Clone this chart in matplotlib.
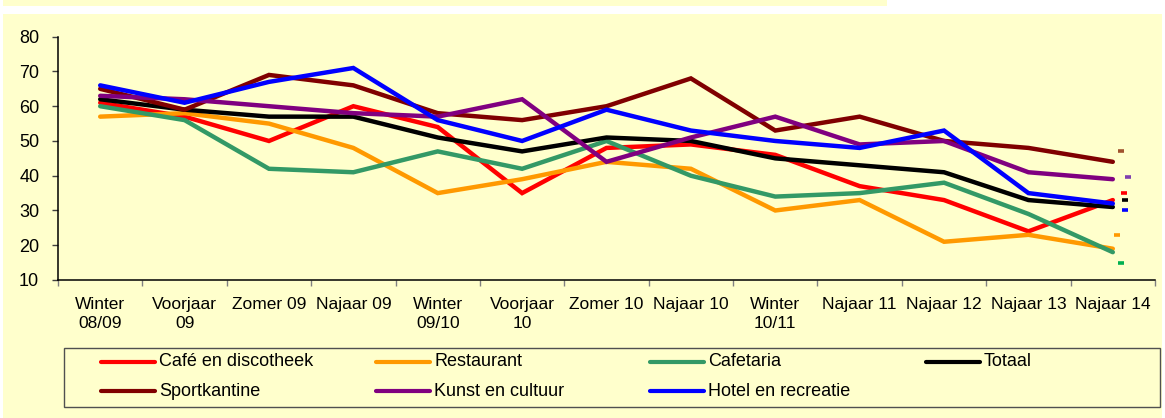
import matplotlib
matplotlib.use("Agg")
import matplotlib.pyplot as plt
from matplotlib.patches import Rectangle
from matplotlib.lines import Line2D
import numpy as np

plt.rcParams['font.family'] = ['Liberation Sans', 'DejaVu Sans']

# ---- data ----
categories = ["Winter\n08/09", "Voorjaar\n09", "Zomer 09", "Najaar 09", "Winter\n09/10",
              "Voorjaar\n10", "Zomer 10", "Najaar 10", "Winter\n10/11", "Najaar 11",
              "Najaar 12", "Najaar 13", "Najaar 14"]
cafe = [61, 57, 50, 60, 54, 35, 48, 49, 46, 37, 33, 24, 33]
restaurant = [57, 58, 55, 48, 35, 39, 44, 42, 30, 33, 21, 23, 19]
cafetaria = [60, 56, 42, 41, 47, 42, 50, 40, 34, 35, 38, 29, 18]
totaal = [62, 59, 57, 57, 51, 47, 51, 50, 45, 43, 41, 33, 31]
sportkantine = [65, 59, 69, 66, 58, 56, 60, 68, 53, 57, 50, 48, 44]
kunst = [63, 62, 60, 58, 57, 62, 44, 51, 57, 49, 50, 41, 39]
hotel = [66, 61, 67, 71, 56, 50, 59, 53, 50, 48, 53, 35, 32]
series_names = ["Café en discotheek", "Restaurant", "Cafetaria", "Totaal",
                "Sportkantine", "Kunst en cultuur", "Hotel en recreatie"]
series_values = [cafe, restaurant, cafetaria, totaal, sportkantine, kunst, hotel]
# separate single values shown as small dashes next to Najaar 14
extra_values = [35, 23, 15, 33, 47, 39.6, 30]

# ---- style ----
line_colors = ["#FF0000", "#FF9900", "#339966", "#000000", "#800000", "#800080", "#0000FF"]
marker_colors = ["#FF0000", "#FF9900", "#00B050", "#000000", "#A0522D", "#7F3FAF", "#0000FF"]
marker_dx = [0.137, 0.053, 0.095, 0.14, 0.095, 0.18, 0.14]
FS = 12.5

W, H = 1165, 418
fig = plt.figure(figsize=(W / 100, H / 100), dpi=100)
fig.patch.set_facecolor("white")
yellow = "#FFFFCC"
fig.add_artist(Rectangle((3 / W, 0), 1159 / W, (418 - 14) / H, transform=fig.transFigure,
                         facecolor=yellow, edgecolor="none", zorder=-5))
fig.add_artist(Rectangle((3 / W, 1 - 6 / H), 884 / W, 6 / H, transform=fig.transFigure,
                         facecolor=yellow, edgecolor="none", zorder=-5))

ax = fig.add_axes([58 / W, 1 - 280 / H, 1097 / W, (280 - 36.7) / H])
ax.set_facecolor("none")
x = np.arange(len(categories))
for vals, c in zip(series_values, line_colors):
    ax.plot(x, vals, color=c, lw=3.2, solid_joinstyle="miter", solid_capstyle="round")
for v, c, dx in zip(extra_values, marker_colors, marker_dx):
    ax.plot([x[-1] + dx], [v], marker="_", markersize=4.5, markeredgewidth=2.6,
            color=c, linestyle="none")

ax.set_xlim(-0.5, len(categories) - 0.5)
ax.set_ylim(10, 80)
ax.set_yticks(range(10, 81, 10))
ax.set_xticks(x)
ax.set_xticklabels(categories, fontsize=FS, linespacing=1.3, va="top")
ax.set_xticks(np.arange(-0.5, len(categories), 1), minor=True)
ax.tick_params(axis="x", which="major", length=0, pad=12.5)
ax.tick_params(axis="x", which="minor", length=4.5, width=1, color="#808080", direction="out")
ax.tick_params(axis="y", length=4.5, width=1, color="#404040", direction="out",
               labelsize=13, pad=9)
for s in ["top", "right"]:
    ax.spines[s].set_visible(False)
for s in ["left", "bottom"]:
    ax.spines[s].set_linewidth(1.1)
    ax.spines[s].set_color("black")

# ---- legend (manual grid like the original) ----
fig.add_artist(Rectangle((64 / W, 1 - 407 / H), (1160 - 64) / W, (407 - 348) / H,
                         transform=fig.transFigure, facecolor="none",
                         edgecolor="#505050", lw=1))
col_x = [101, 376, 650, 926]
row_y = [362, 391]
for i, (name, c) in enumerate(zip(series_names, line_colors)):
    r, k = divmod(i, 4)
    x0 = col_x[k]
    y0 = 1 - row_y[r] / H
    fig.add_artist(Line2D([x0 / W, (x0 + 54) / W], [y0, y0], transform=fig.transFigure,
                          color=c, lw=3, solid_capstyle="round"))
    fig.text((x0 + 58) / W, y0, name, fontsize=13, va="center", ha="left")

fig.savefig("out.png", dpi=100, facecolor=fig.get_facecolor())
